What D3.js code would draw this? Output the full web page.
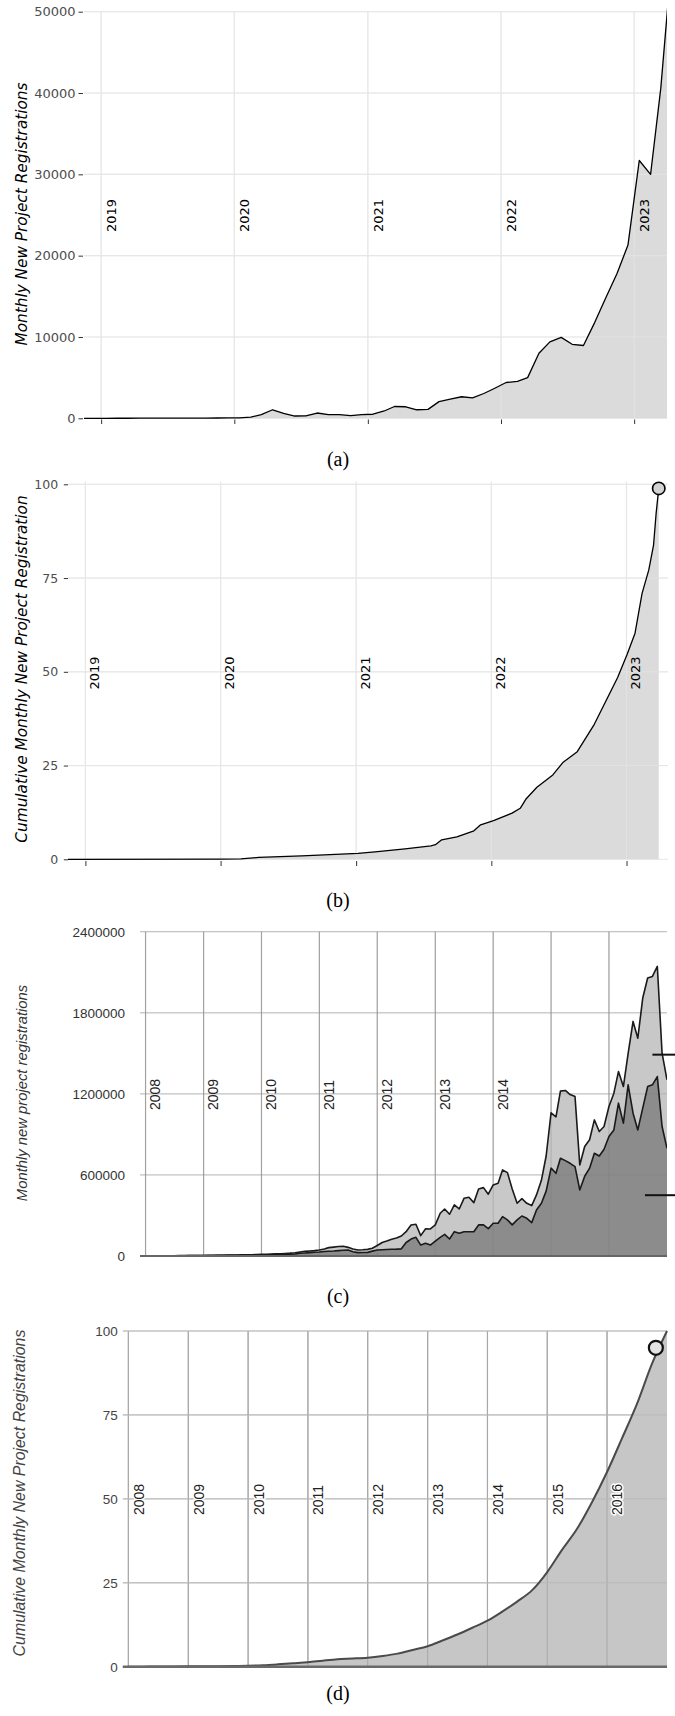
<!DOCTYPE html>
<html><head><meta charset="utf-8">
<script src="https://cdn.jsdelivr.net/npm/d3@7"></script>
<style>body{margin:0;background:#fff}svg{display:block}</style>
</head><body>
<svg id="c" width="675" height="1716"></svg>
<script>
// ---------------- DATA ----------------
// (a) monthly new project registrations, monthly from 2018-11
const startA = "2018-11";
const valuesA = [0, 0,
  0, 5, 8, 10, 12, 15, 18, 20, 25, 30, 35, 45,
  60, 150, 450, 1050, 600, 280, 300, 650, 450, 450, 330, 450,
  500, 900, 1450, 1420, 1050, 1100, 2050, 2350, 2650, 2500, 3050, 3700,
  4400, 4550, 5000, 8000, 9400, 9950, 9100, 8950, 11800, 14800, 17800, 21300,
  31700, 30000, 40600, 57000];
const yearsA = ["2019", "2020", "2021", "2022", "2023"];
const yTicksA = [0, 10000, 20000, 30000, 40000, 50000];

// (b) cumulative (%), read at the curve's vertices
const datesB = ["2018-11-15","2020-01-01","2020-02-25","2020-04-13","2020-08-07","2021-01-06","2021-02-21",
  "2021-05-13","2021-07-22","2021-08-03","2021-08-20","2021-09-30","2021-11-15","2021-12-03","2022-01-07",
  "2022-02-26","2022-03-20","2022-04-04","2022-05-04","2022-06-16","2022-07-13","2022-08-21","2022-10-06",
  "2022-12-08","2023-01-02","2023-01-24","2023-02-12","2023-03-02","2023-03-15","2023-03-22","2023-03-29"];
const valuesB = [0, 0.05, 0.1, 0.5, 0.9, 1.6, 2.0, 2.8, 3.6, 3.9, 5.2, 6.0, 7.6, 9.2, 10.3,
  12.3, 13.6, 16.0, 19.2, 22.5, 25.8, 28.7, 36.0, 48.5, 54.5, 60.3, 70.9, 77.1, 83.8, 92.3, 98.9];
const pointB = {date: "2023-03-29", value: 98.9};
const yearsB = ["2019", "2020", "2021", "2022", "2023"];
const yTicksB = [0, 25, 50, 75, 100];

// (c) two series, monthly from 2008-01
const startC = "2008-01";
const upperC = [
  1000, 1200, 1400, 1600, 1800, 2000, 2300, 2600, 2900, 3200, 3500, 3800,
  4200, 4600, 5000, 5500, 6000, 6500, 7000, 7600, 8200, 8800, 9500, 10200,
  12000, 13000, 14000, 15500, 17000, 19000, 21000, 24000, 30000, 34000, 37000, 40000,
  44000, 52000, 62000, 66000, 70000, 72000, 64000, 52000, 44000, 46000, 49000, 57000,
  78000, 100000, 111000, 124000, 133000, 148000, 180000, 230000, 235000, 151000, 202000, 200000,
  230000, 316000, 348000, 309000, 378000, 348000, 427000, 435000, 395000, 496000, 506000, 457000,
  526000, 538000, 637000, 617000, 496000, 390000, 425000, 390000, 373000, 452000, 560000, 740000,
  1060000, 1030000, 1220000, 1225000, 1195000, 1180000, 674000, 810000, 860000, 1007000, 921000, 958000,
  1106000, 1205000, 1365000, 1254000, 1500000, 1736000, 1612000, 1909000, 2057000, 2069000, 2143000, 1501000,
  1304000];
const lowerC = [
  800, 1000, 1200, 1400, 1500, 1700, 1900, 2100, 2300, 2500, 2800, 3000,
  3300, 3600, 4000, 4400, 4800, 5200, 5600, 6000, 6500, 7000, 7500, 8000,
  8500, 9000, 9500, 10000, 11000, 12000, 13000, 15000, 20000, 22000, 25000, 28000,
  30000, 33000, 35000, 37000, 40000, 43000, 44000, 32000, 25000, 26000, 27000, 36000,
  44000, 46000, 48000, 50000, 51000, 53000, 100000, 125000, 138000, 81000, 94000, 81000,
  110000, 138000, 160000, 126000, 180000, 168000, 180000, 180000, 180000, 230000, 230000, 202000,
  242000, 242000, 291000, 267000, 230000, 267000, 296000, 279000, 247000, 341000, 390000, 480000,
  650000, 612000, 723000, 706000, 686000, 662000, 489000, 590000, 650000, 760000, 740000, 790000,
  884000, 933000, 1131000, 983000, 1267000, 1057000, 933000, 1094000, 1254000, 1267000, 1328000, 958000,
  797000];
const markersC = [{start: "2016-10-01", value: 1490000}, {start: "2016-08-15", value: 450000}];
const yearsC = ["2008", "2009", "2010", "2011", "2012", "2013", "2014", "2015", "2016"];
const yearLabelsC = ["2008", "2009", "2010", "2011", "2012", "2013", "2014"];
const yTicksC = [0, 600000, 1200000, 1800000, 2400000];

// (d) cumulative (%), quarterly from 2008-01
const startD = "2008-01";
const valuesD = [0, 0.02, 0.04, 0.07, 0.1, 0.13, 0.17, 0.22, 0.3, 0.45, 0.7, 1.0,
  1.3, 1.8, 2.25, 2.45, 2.7, 3.2, 3.9, 5.0, 6.1, 7.8, 9.6, 11.6,
  13.7, 16.4, 19.4, 22.8, 28.2, 34.8, 41.0, 49.0, 58.0, 68.0, 78.2, 90.2, 100];
const pointD = {date: "2016-10-25", value: 95};
const yearsD = ["2008", "2009", "2010", "2011", "2012", "2013", "2014", "2015", "2016"];
const yTicksD = [0, 25, 50, 75, 100];

// ---------------- DRAW ----------------
const pM = d3.timeParse("%Y-%m"), pD = d3.timeParse("%Y-%m-%d"), pY = d3.timeParse("%Y");
const svg = d3.select("#c");
svg.append("rect").attr("width", 675).attr("height", 1716).attr("fill", "#fff");
const defs = svg.append("defs");

function clip(id, x0, y0, x1, y1) {
  defs.append("clipPath").attr("id", id).append("rect")
    .attr("x", x0).attr("y", y0).attr("width", x1 - x0).attr("height", y1 - y0);
  return "url(#" + id + ")";
}
function hGrid(y, ticks, x0, x1, color, w, op) {
  svg.append("g").attr("opacity", op || 1).selectAll("line").data(ticks).enter().append("line")
    .attr("x1", x0).attr("x2", x1).attr("y1", d => y(d)).attr("y2", d => y(d))
    .attr("stroke", color).attr("stroke-width", w);
}
function vGrid(x, years, y0, y1, color, w, op) {
  svg.append("g").attr("opacity", op || 1).selectAll("line").data(years).enter().append("line")
    .attr("x1", d => x(pY(d))).attr("x2", d => x(pY(d))).attr("y1", y0).attr("y2", y1)
    .attr("stroke", color).attr("stroke-width", w);
}
function yearText(x, years, dx, yStart, fam, size, fill, halo) {
  const t = svg.append("g").selectAll("text").data(years).enter().append("text")
    .attr("transform", d => `translate(${x(pY(d)) + dx},${yStart}) rotate(-90)`)
    .attr("font-family", fam).attr("font-size", size).attr("fill", fill).text(d => d);
  if (halo) t.attr("stroke", "#fff").attr("stroke-width", 3).attr("paint-order", "stroke").attr("stroke-linejoin", "round");
}
function vTitle(txt, cx, cy, fam, size, fill) {
  svg.append("text").attr("transform", `translate(${cx},${cy}) rotate(-90)`)
    .attr("text-anchor", "middle").attr("dominant-baseline", "central")
    .attr("font-family", fam).attr("font-style", "italic").attr("font-size", size).attr("fill", fill).text(txt);
}
function caption(txt, y) {
  svg.append("text").attr("x", 338).attr("y", y).attr("text-anchor", "middle")
    .attr("font-family", "Liberation Serif, Times New Roman, serif").attr("font-size", 20).attr("fill", "#000").text(txt);
}
function leftAxis(y, ticks, xPos, size, pad, fam, fsize, fill, tickColor) {
  const g = svg.append("g").attr("transform", `translate(${xPos},0)`)
    .call(d3.axisLeft(y).tickValues(ticks).tickSize(size).tickPadding(pad).tickFormat(d3.format("d")));
  g.select(".domain").remove();
  g.selectAll("text").attr("font-family", fam).attr("font-size", fsize).attr("fill", fill);
  g.selectAll("line").attr("stroke", tickColor);
  return g;
}

// ===== Panel (a) =====
{
  const data = valuesA.map((v, i) => ({date: d3.timeDay.offset(d3.timeMonth.offset(pM(startA), i), 14), v}));
  const x = d3.scaleTime().domain([pD("2018-11-15"), pD("2023-04-01")]).range([84, 667]);
  const y = d3.scaleLinear().domain([0, 50000]).range([418.3, 11.7]);
  hGrid(y, yTicksA, 84, 667, "#ebebeb", 1.2);
  vGrid(x, yearsA, 11.7, 418.3, "#ebebeb", 1.2);
  const cp = clip("ca", 84, 0, 667, 420);
  svg.append("path").datum(data).attr("clip-path", cp).attr("fill", "#dbdbdb")
    .attr("d", d3.area().x(d => x(d.date)).y0(y(0)).y1(d => y(d.v)));
  hGrid(y, yTicksA.slice(1), 84, 667, "#e6e6e6", 1.1, 0.7);
  vGrid(x, yearsA, 11.7, 418.3, "#e6e6e6", 1.1, 0.7);
  yearText(x, yearsA, 14.9, 232, "DejaVu Sans", 13, "#000", false);
  svg.append("path").datum(data).attr("clip-path", cp).attr("fill", "none").attr("stroke", "#000")
    .attr("stroke-width", 1.3).attr("stroke-linejoin", "round")
    .attr("d", d3.line().x(d => x(d.date)).y(d => y(d.v)));
  leftAxis(y, yTicksA, 83, 4.5, 3, "DejaVu Sans", 13, "#4d4d4d", "#333");
  const bx = svg.append("g").attr("transform", "translate(0,419.5)")
    .call(d3.axisBottom(x).tickValues(yearsA.map(pY)).tickSize(4.5).tickFormat(""));
  bx.select(".domain").remove();
  bx.selectAll("line").attr("stroke", "#333");
  vTitle("Monthly New Project Registrations", 21.5, 214, "DejaVu Sans", 15.3, "#000");
  caption("(a)", 466);
}

// ===== Panel (b) =====
{
  const data = datesB.map((d, i) => ({date: pD(d), v: valuesB[i]}));
  const x = d3.scaleTime().domain([pD("2018-11-15"), pD("2023-04-23")]).range([68, 668]);
  const y = d3.scaleLinear().domain([0, 100]).range([859.3, 484.3]);
  hGrid(y, yTicksB, 68, 668, "#ebebeb", 1.2);
  vGrid(x, yearsB, 481.7, 859.3, "#ebebeb", 1.2);
  svg.append("path").datum(data).attr("fill", "#dbdbdb")
    .attr("d", d3.area().x(d => x(d.date)).y0(y(0)).y1(d => y(d.v)));
  hGrid(y, yTicksB.slice(1), 68, 668, "#e6e6e6", 1.1, 0.7);
  vGrid(x, yearsB, 481.7, 859.3, "#e6e6e6", 1.1, 0.7);
  yearText(x, yearsB, 13.4, 689.5, "DejaVu Sans", 13, "#000", false);
  svg.append("path").datum(data).attr("fill", "none").attr("stroke", "#000")
    .attr("stroke-width", 1.3).attr("stroke-linejoin", "round")
    .attr("d", d3.line().x(d => x(d.date)).y(d => y(d.v)));
  svg.append("circle").attr("cx", x(pD(pointB.date))).attr("cy", y(pointB.value)).attr("r", 6.2)
    .attr("fill", "#d3d3d3").attr("stroke", "#000").attr("stroke-width", 1.6);
  leftAxis(y, yTicksB, 68, 4.2, 5.6, "DejaVu Sans", 12.5, "#4d4d4d", "#333");
  const bx = svg.append("g").attr("transform", "translate(0,861)")
    .call(d3.axisBottom(x).tickValues(yearsB.map(pY)).tickSize(5).tickFormat(""));
  bx.select(".domain").remove();
  bx.selectAll("line").attr("stroke", "#333");
  vTitle("Cumulative Monthly New Project Registration", 21.5, 669, "DejaVu Sans", 15.3, "#000");
  caption("(b)", 907);
}

// ===== Panel (c) =====
{
  const dates = upperC.map((_, i) => d3.timeMonth.offset(pM(startC), i));
  const up = dates.map((d, i) => ({date: d, v: upperC[i]}));
  const lo = dates.map((d, i) => ({date: d, v: lowerC[i]}));
  const x = d3.scaleTime().domain([pD("2007-11-27"), pD("2017-01-01")]).range([140, 667]);
  const y = d3.scaleLinear().domain([0, 2400000]).range([1256, 931.7]);
  hGrid(y, yTicksC, 140, 667, "#d9d9d9", 1.2);
  vGrid(x, yearsC, 931.7, 1256, "#b3b3b3", 1.2);
  const cp = clip("cc", 140, 920, 667, 1258);
  const area = d3.area().x(d => x(d.date)).y0(y(0)).y1(d => y(d.v));
  const line = d3.line().x(d => x(d.date)).y(d => y(d.v));
  svg.append("path").datum(up).attr("clip-path", cp).attr("fill", "#c8c8c8").attr("d", area);
  svg.append("path").datum(lo).attr("clip-path", cp).attr("fill", "#8c8c8c").attr("d", area);
  // gridlines remain faintly visible through the filled areas
  hGrid(y, yTicksC.slice(1), 140, 667, "#777", 1, 0.25);
  vGrid(x, yearsC, 931.7, 1256, "#777", 1, 0.3);
  svg.append("path").datum(up).attr("clip-path", cp).attr("fill", "none").attr("stroke", "#1a1a1a")
    .attr("stroke-width", 1.6).attr("stroke-linejoin", "round").attr("d", line);
  svg.append("path").datum(lo).attr("clip-path", cp).attr("fill", "none").attr("stroke", "#1a1a1a")
    .attr("stroke-width", 1.6).attr("stroke-linejoin", "round").attr("d", line);
  svg.append("line").attr("x1", 140).attr("x2", 667).attr("y1", y(0)).attr("y2", y(0))
    .attr("stroke", "#666").attr("stroke-width", 2);
  yearText(x, yearLabelsC, 14.5, 1110, "Liberation Sans, Arial, sans-serif", 14, "#222", false);
  svg.append("g").selectAll("line").data(markersC).enter().append("line")
    .attr("x1", d => x(pD(d.start))).attr("x2", 675).attr("y1", d => y(d.value)).attr("y2", d => y(d.value))
    .attr("stroke", "#111").attr("stroke-width", 2);
  leftAxis(y, yTicksC, 140, 0, 15, "Liberation Sans, Arial, sans-serif", 13.5, "#333", "none");
  vTitle("Monthly new project registrations", 21.5, 1093, "Liberation Sans, Arial, sans-serif", 14.8, "#333");
  caption("(c)", 1303);
}

// ===== Panel (d) =====
{
  const data = valuesD.map((v, i) => ({date: d3.timeMonth.offset(pM(startD), 3 * i), v}));
  const x = d3.scaleTime().domain([pD("2007-11-28"), pD("2017-01-01")]).range([122.8, 667]);
  const y = d3.scaleLinear().domain([0, 100]).range([1666.7, 1331]);
  hGrid(y, yTicksD, 122.8, 667, "#d5d5d5", 1.2);
  vGrid(x, yearsD, 1331, 1666.7, "#b0b0b0", 1.2);
  svg.append("path").datum(data).attr("fill", "#c6c6c6")
    .attr("d", d3.area().curve(d3.curveMonotoneX).x(d => x(d.date)).y0(y(0)).y1(d => y(d.v)));
  // vertical gridlines stay visible over the filled area
  vGrid(x, yearsD, 1331, 1666.7, "#a8a8a8", 1);
  hGrid(y, yTicksD.slice(1), 122.8, 667, "#b9b9b9", 1);
  svg.append("path").datum(data).attr("fill", "none").attr("stroke", "#4a4a4a").attr("stroke-width", 2)
    .attr("d", d3.line().curve(d3.curveMonotoneX).x(d => x(d.date)).y(d => y(d.v)));
  svg.append("line").attr("x1", 122.8).attr("x2", 667).attr("y1", y(0)).attr("y2", y(0))
    .attr("stroke", "#6a6a6a").attr("stroke-width", 2.5);
  yearText(x, yearsD, 15.4, 1515, "Liberation Sans, Arial, sans-serif", 14, "#222", true);
  svg.append("circle").attr("cx", x(pD(pointD.date))).attr("cy", y(pointD.value)).attr("r", 7)
    .attr("fill", "#e2e2e2").attr("stroke", "#111").attr("stroke-width", 2.2);
  leftAxis(y, yTicksD, 122.8, 0, 5, "Liberation Sans, Arial, sans-serif", 13.5, "#444", "none");
  vTitle("Cumulative Monthly New Project Registrations", 19.4, 1493, "Liberation Sans, Arial, sans-serif", 15.9, "#444");
  caption("(d)", 1700);
}
</script>
</body></html>
